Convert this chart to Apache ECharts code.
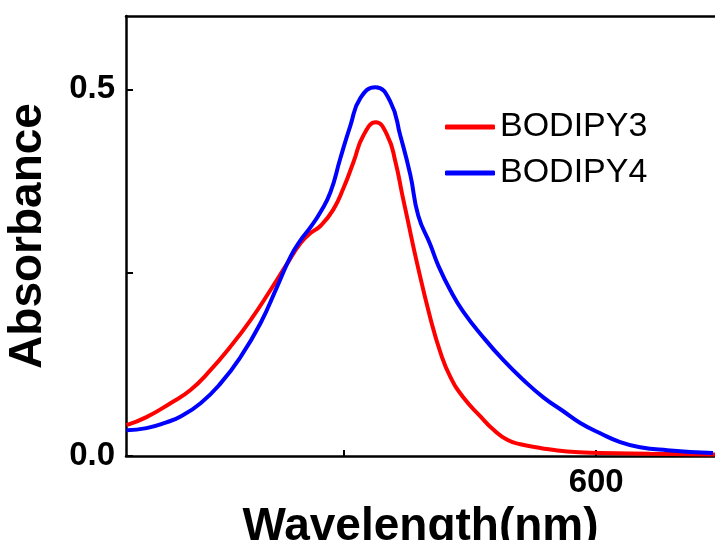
<!DOCTYPE html>
<html>
<head>
<meta charset="utf-8">
<script src="https://cdn.jsdelivr.net/npm/echarts@6/dist/echarts.min.js"></script>
<style>
  html, body { margin: 0; padding: 0; background: #fff; }
  #chart { width: 715px; height: 540px; }
</style>
</head>
<body>
<div id="chart"></div>
<script>
// wavelength (nm) and absorbance
const wlRed  = [414.2, 422.1, 431.6, 439.5, 447.4, 455.3, 463.2, 471.1, 477.7, 483.0, 487.0, 491.0, 496.0, 500.0, 504.0, 507.9, 512.8, 517.4, 520.6, 523.3, 525.3, 529.2, 534.4, 538.3, 542.3, 547.4, 554.2, 559.3, 564.8, 570.0, 577.9, 588.5, 601.6, 621.3, 647.0];
const absRed = [0.042, 0.053, 0.072, 0.090, 0.117, 0.149, 0.185, 0.226, 0.262, 0.290, 0.304, 0.314, 0.336, 0.365, 0.401, 0.437, 0.455, 0.437, 0.401, 0.356, 0.324, 0.262, 0.188, 0.142, 0.108, 0.080, 0.054, 0.036, 0.022, 0.016, 0.011, 0.006, 0.004, 0.003, 0.002];
const wlBlue  = [414.2, 422.1, 430.0, 435.6, 443.5, 451.4, 459.3, 467.2, 473.8, 479.1, 483.0, 487.0, 491.0, 494.9, 498.8, 502.8, 506.7, 512.6, 518.6, 522.5, 526.5, 529.6, 534.4, 537.5, 542.3, 547.4, 555.3, 563.2, 571.1, 579.1, 587.0, 593.7, 601.6, 609.5, 617.4, 628.1, 646.2];
const absBlue = [0.035, 0.038, 0.046, 0.054, 0.072, 0.099, 0.135, 0.181, 0.231, 0.272, 0.294, 0.312, 0.333, 0.360, 0.406, 0.451, 0.488, 0.503, 0.483, 0.437, 0.383, 0.328, 0.288, 0.260, 0.226, 0.197, 0.162, 0.131, 0.104, 0.080, 0.061, 0.045, 0.031, 0.019, 0.012, 0.008, 0.004];
const seriesNames = ['BODIPY3', 'BODIPY4'];
const xTicks = [500, 600];
const xLabels = [600];
const yTicks = [0, 0.25, 0.5];
const yLabels = [0, 0.5];

const font = 'Liberation Sans';
const zip = (xs, ys) => xs.map((x, i) => [x, ys[i]]);

const chart = echarts.init(document.getElementById('chart'));
chart.setOption({
  animation: false,
  grid: { left: 126, right: 0, top: 16, bottom: 84, outerBoundsMode: 'none' },
  legend: {
    orient: 'vertical',
    left: 440,
    top: 105,
    itemWidth: 50,
    itemHeight: 5,
    itemGap: 12,
    icon: 'roundRect',
    data: seriesNames,
    textStyle: { fontFamily: font, fontSize: 34, color: '#000' }
  },
  xAxis: [
    {
      type: 'value',
      min: 414,
      max: 647,
      name: 'Wavelength(nm)',
      nameLocation: 'middle',
      nameGap: 32,
      nameTextStyle: { fontFamily: font, fontSize: 46, fontWeight: 'bold', color: '#000' },
      axisLine: { lineStyle: { color: '#000', width: 2.5 } },
      axisTick: { inside: true, length: 6, customValues: xTicks, lineStyle: { color: '#000', width: 2 } },
      axisLabel: {
        customValues: xLabels, margin: 10,
        fontFamily: font, fontSize: 33, fontWeight: 'bold', color: '#000'
      },
      splitLine: { show: false }
    },
    {
      type: 'value',
      position: 'top',
      min: 414,
      max: 647,
      axisLine: { lineStyle: { color: '#000', width: 2.5 } },
      axisTick: { show: false },
      axisLabel: { show: false },
      splitLine: { show: false }
    }
  ],
  yAxis: {
    type: 'value',
    min: 0,
    max: 0.6,
    name: 'Absorbance',
    nameLocation: 'middle',
    nameGap: 75,
    nameTextStyle: { fontFamily: font, fontSize: 46, fontWeight: 'bold', color: '#000' },
    axisLine: { show: true, lineStyle: { color: '#000', width: 2.5 } },
    axisTick: { inside: true, length: 7, customValues: yTicks, lineStyle: { color: '#000', width: 2 } },
    axisLabel: {
      customValues: yLabels, margin: 11,
      formatter: v => v.toFixed(1),
      fontFamily: font, fontSize: 33, fontWeight: 'bold', color: '#000'
    },
    splitLine: { show: false }
  },
  series: [
    {
      name: seriesNames[0],
      type: 'line',
      data: zip(wlRed, absRed),
      smooth: 0.5,
      showSymbol: false,
      itemStyle: { color: '#ff0000' },
      lineStyle: { color: '#ff0000', width: 4 }
    },
    {
      name: seriesNames[1],
      type: 'line',
      data: zip(wlBlue, absBlue),
      smooth: 0.5,
      showSymbol: false,
      itemStyle: { color: '#0000ff' },
      lineStyle: { color: '#0000ff', width: 4 }
    }
  ]
});
</script>
</body>
</html>
